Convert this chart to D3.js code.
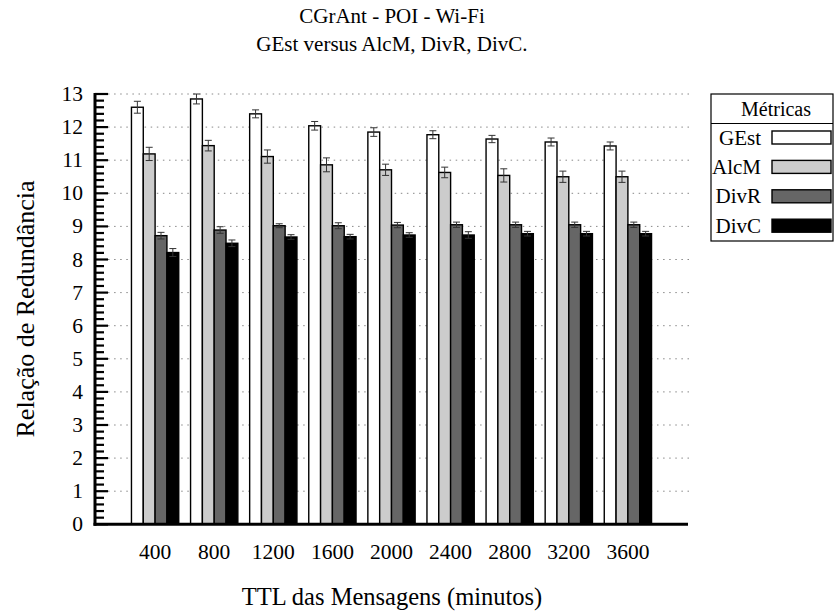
<!DOCTYPE html>
<html><head><meta charset="utf-8">
<script src="https://cdn.jsdelivr.net/npm/d3@7"></script>
<style>
html,body{margin:0;padding:0;background:#fff;}
svg{display:block;}
svg text{font-family:"Liberation Serif","Times New Roman",Tinos,"DejaVu Serif",serif;}
</style></head>
<body><svg id="c" width="834" height="612"></svg>
<script>
const categories = ["400","800","1200","1600","2000","2400","2800","3200","3600"];
const seriesNames = ["GEst","AlcM","DivR","DivC"];
const seriesColors = ["#ffffff","#cccccc","#666666","#000000"];
const gest = [12.60,12.85,12.40,12.04,11.85,11.77,11.64,11.55,11.43];
const gestErr = [0.18,0.15,0.12,0.13,0.13,0.12,0.11,0.12,0.12];
const alcm = [11.19,11.44,11.11,10.86,10.71,10.63,10.54,10.50,10.50];
const alcmErr = [0.20,0.16,0.20,0.21,0.17,0.16,0.20,0.17,0.17];
const divr = [8.72,8.89,9.02,9.02,9.04,9.05,9.05,9.05,9.05];
const divrErr = [0.10,0.10,0.06,0.09,0.08,0.08,0.08,0.08,0.08];
const divc = [8.21,8.49,8.68,8.69,8.74,8.74,8.78,8.78,8.78];
const divcErr = [0.12,0.10,0.07,0.07,0.07,0.10,0.07,0.07,0.07];
const yTicks = [0,1,2,3,4,5,6,7,8,9,10,11,12,13];
const titleLines = ["CGrAnt - POI - Wi-Fi","GEst versus AlcM, DivR, DivC."];
const xLabel = "TTL das Mensagens (minutos)";
const yLabel = "Relação de Redundância";
const legendTitle = "Métricas";

const series = [gest, alcm, divr, divc];
const errs = [gestErr, alcmErr, divrErr, divcErr];

const svg = d3.select("#c");
const x = d3.scaleLinear().domain([0,10]).range([96,687]);
const y = d3.scaleLinear().domain([0,13]).range([524.3,94]);

// grid
svg.append("g").selectAll("line").data(yTicks.filter(d=>d>0)).join("line")
  .attr("x1",108).attr("x2",690).attr("y1",d=>y(d)).attr("y2",d=>y(d))
  .attr("stroke","#888").attr("stroke-width",1).attr("stroke-dasharray","1.5,4.6");

// bars
const bw = x(0.2)-x(0);
series.forEach((vals,s)=>{
  const g = svg.append("g");
  g.selectAll("rect").data(vals).join("rect")
    .attr("x",(d,i)=>x(i+1-0.4+0.2*s))
    .attr("y",d=>y(d))
    .attr("width",bw)
    .attr("height",d=>y(0)-y(d))
    .attr("fill",seriesColors[s])
    .attr("stroke","#000").attr("stroke-width",1.4);
  const e = svg.append("g").attr("stroke","#333").attr("stroke-width",1);
  vals.forEach((d,i)=>{
    const cx = x(i+1-0.4+0.2*s+0.1);
    const lo = y(d-errs[s][i]), hi = y(d+errs[s][i]);
    e.append("line").attr("x1",cx).attr("x2",cx).attr("y1",lo).attr("y2",hi);
    e.append("line").attr("x1",cx-3.5).attr("x2",cx+3.5).attr("y1",lo).attr("y2",lo);
    e.append("line").attr("x1",cx-3.5).attr("x2",cx+3.5).attr("y1",hi).attr("y2",hi);
  });
});

// y axis with inward ticks
const minor = d3.range(0,13.001,0.2);
svg.append("g").selectAll("line").data(minor).join("line")
  .attr("x1",95).attr("x2",d=>Math.abs(d-Math.round(d))<1e-6?108:104)
  .attr("y1",d=>y(d)).attr("y2",d=>y(d))
  .attr("stroke","#000").attr("stroke-width",2.2);
svg.append("line").attr("x1",95).attr("x2",95).attr("y1",y(13)-1).attr("y2",y(0)+1.5)
  .attr("stroke","#000").attr("stroke-width",3);
svg.append("line").attr("x1",93.5).attr("x2",688).attr("y1",y(0)).attr("y2",y(0))
  .attr("stroke","#000").attr("stroke-width",3);

svg.append("g").selectAll("text").data(yTicks).join("text")
  .attr("x",83).attr("y",d=>y(d)+7).attr("text-anchor","end")
  .attr("font-size",21.5).text(d=>d);

svg.append("g").selectAll("text").data(categories).join("text")
  .attr("x",(d,i)=>x(i+1)).attr("y",559).attr("text-anchor","middle")
  .attr("font-size",21.5).text(d=>d);

// titles
svg.selectAll("text.title").data(titleLines).join("text").attr("class","title")
  .attr("x",392).attr("y",(d,i)=>23+i*28).attr("text-anchor","middle")
  .attr("font-size",21).text(d=>d);
svg.append("text").attr("x",392).attr("y",605).attr("text-anchor","middle")
  .attr("font-size",24.5).text(xLabel);
svg.append("text").attr("transform","translate(34,309) rotate(-90)")
  .attr("text-anchor","middle").attr("font-size",26).text(yLabel);

// legend
const lg = svg.append("g");
lg.append("rect").attr("x",711).attr("y",94).attr("width",122).attr("height",147)
  .attr("fill","#fff").attr("stroke","#000").attr("stroke-width",1.2);
lg.append("line").attr("x1",711).attr("x2",833).attr("y1",123.5).attr("y2",123.5)
  .attr("stroke","#000").attr("stroke-width",1.2);
lg.append("text").attr("x",776).attr("y",116).attr("text-anchor","middle")
  .attr("font-size",20).text(legendTitle);
seriesNames.forEach((n,s)=>{
  const cy = 137.5 + s*29.4;
  lg.append("text").attr("x",761).attr("y",cy+7).attr("text-anchor","end")
    .attr("font-size",21).text(n);
  lg.append("rect").attr("x",772).attr("y",cy-6.5).attr("width",59).attr("height",13)
    .attr("fill",seriesColors[s]).attr("stroke","#000").attr("stroke-width",1.4);
});
</script></body></html>
